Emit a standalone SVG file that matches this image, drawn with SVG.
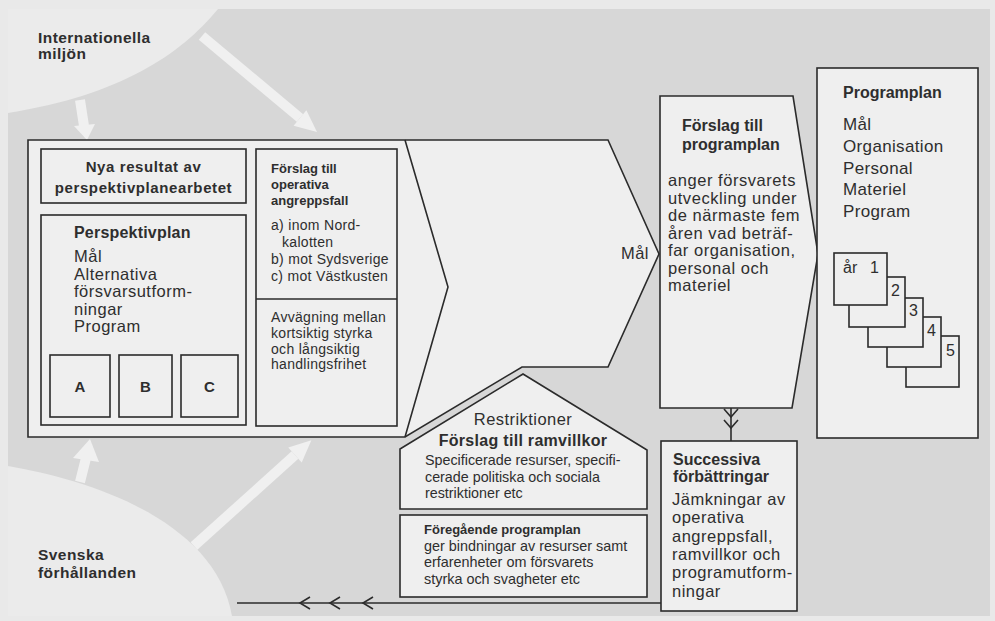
<svg xmlns="http://www.w3.org/2000/svg" width="995" height="621" viewBox="0 0 995 621">
  <defs>
    <style>
      .ln { fill: none; stroke: #2b2b2b; stroke-width: 1.6; stroke-linejoin: miter; }
      .box { fill: #efefef; stroke: #2b2b2b; stroke-width: 1.6; }
      .t { font-family: "Liberation Sans", Arial, sans-serif; fill: #2e2e2e; }
      .b { font-weight: bold; }
      .halo { fill: #ebebeb; }
      .wshaft { stroke: #f0f0f0; stroke-width: 10; fill: none; }
      .whead { fill: #f0f0f0; }
    </style>
  </defs>

  <!-- paper and grey panel -->
  <rect x="0" y="0" width="995" height="621" fill="#e9e9e9"/>
  <rect x="8" y="9" width="982" height="607" fill="#d7d7d7"/>

  <!-- light surroundings: international environment (top) and Swedish conditions (bottom) -->
  <path class="halo" d="M8,9 L218,9 C180,55 120,95 8,113 Z"/>
  <path class="halo" d="M8,466 C90,480 215,520 232,616 L8,616 Z"/>

  <!-- broad white influence arrows -->
  <g id="influence-arrows">
    <line class="wshaft" x1="80" y1="100" x2="84" y2="126"/>
    <polygon class="whead" points="74,126 95,124 87,140"/>
    <line class="wshaft" x1="202" y1="36" x2="300" y2="118"/>
    <polygon class="whead" points="293.6,125.7 306.4,110.3 317,132"/>
    <line class="wshaft" x1="80" y1="482" x2="86" y2="458"/>
    <polygon class="whead" points="73,458 99,462 90,439"/>
    <line class="wshaft" x1="194" y1="546" x2="295" y2="455"/>
    <polygon class="whead" points="288.3,447.6 301.7,462.4 311.4,440.3"/>
  </g>

  <!-- left block with forward chevron -->
  <g id="perspektiv-block">
    <path class="box" d="M28,140 L608,140 L659,254 L608,367 L522,367 L405,437 L28,437 Z"/>
    <path class="ln" d="M405,140 L448,287 L405,437"/>
    <text class="t" x="621" y="259" font-size="16.5" letter-spacing="0.4">Mål</text>
  </g>

  <g id="nya-resultat">
    <rect class="box" x="41" y="149" width="205" height="54"/>
    <text class="t b" x="143.5" y="172" font-size="15" letter-spacing="0.6" text-anchor="middle">Nya resultat av</text>
    <text class="t b" x="143.5" y="193" font-size="15" letter-spacing="0.6" text-anchor="middle">perspektivplanearbetet</text>
  </g>

  <g id="perspektivplan">
    <rect class="box" x="41" y="215" width="205" height="210"/>
    <text class="t b" x="74" y="238" font-size="16" letter-spacing="0.2">Perspektivplan</text>
    <g letter-spacing="0.5">
      <text class="t" x="74" y="262" font-size="16.5">Mål</text>
      <text class="t" x="74" y="279.5" font-size="16.5">Alternativa</text>
      <text class="t" x="74" y="297" font-size="16.5">försvarsutform-</text>
      <text class="t" x="74" y="314.5" font-size="16.5">ningar</text>
      <text class="t" x="74" y="332" font-size="16.5">Program</text>
    </g>
  </g>
  <g id="alt-a">
    <rect class="box" x="50" y="355" width="60" height="62"/>
    <text class="t b" x="80" y="392" font-size="15" text-anchor="middle">A</text>
  </g>
  <g id="alt-b">
    <rect class="box" x="119" y="355" width="53" height="62"/>
    <text class="t b" x="145.5" y="392" font-size="15" text-anchor="middle">B</text>
  </g>
  <g id="alt-c">
    <rect class="box" x="181" y="355" width="57" height="62"/>
    <text class="t b" x="209.5" y="392" font-size="15" text-anchor="middle">C</text>
  </g>

  <g id="angreppsfall">
    <rect class="box" x="256" y="149" width="141" height="277"/>
    <line class="ln" x1="256" y1="299" x2="397" y2="299"/>
    <text class="t b" x="271" y="173" font-size="13">Förslag till</text>
    <text class="t b" x="271" y="189" font-size="13">operativa</text>
    <text class="t b" x="271" y="205" font-size="13">angreppsfall</text>
    <g letter-spacing="0.3">
      <text class="t" x="271" y="230" font-size="14">a) inom Nord-</text>
      <text class="t" x="282" y="247" font-size="14">kalotten</text>
      <text class="t" x="271" y="264" font-size="14">b) mot Sydsverige</text>
      <text class="t" x="271" y="281" font-size="14">c) mot Västkusten</text>
      <text class="t" x="271" y="322" font-size="14">Avvägning mellan</text>
      <text class="t" x="271" y="338" font-size="14">kortsiktig styrka</text>
      <text class="t" x="271" y="353.5" font-size="14">och långsiktig</text>
      <text class="t" x="271" y="369" font-size="14">handlingsfrihet</text>
    </g>
  </g>

  <g id="forslag-programplan">
    <path class="box" d="M660,96 L793,96 L818,254 L792,408 L660,408 Z"/>
    <text class="t b" x="682" y="131" font-size="16">Förslag till</text>
    <text class="t b" x="682" y="150" font-size="16">programplan</text>
    <g letter-spacing="0.55">
      <text class="t" x="668" y="186" font-size="16.5">anger försvarets</text>
      <text class="t" x="668" y="203.5" font-size="16.5">utveckling under</text>
      <text class="t" x="668" y="221" font-size="16.5">de närmaste fem</text>
      <text class="t" x="668" y="238.5" font-size="16.5">åren vad beträf-</text>
      <text class="t" x="668" y="256" font-size="16.5">far organisation,</text>
      <text class="t" x="668" y="273.5" font-size="16.5">personal och</text>
      <text class="t" x="668" y="291" font-size="16.5">materiel</text>
    </g>
  </g>

  <g id="programplan">
    <rect class="box" x="817" y="68" width="161" height="370"/>
    <text class="t b" x="843" y="98" font-size="16">Programplan</text>
    <g letter-spacing="0.35">
      <text class="t" x="843" y="130" font-size="17">Mål</text>
      <text class="t" x="843" y="152" font-size="17">Organisation</text>
      <text class="t" x="843" y="173.5" font-size="17">Personal</text>
      <text class="t" x="843" y="195" font-size="17">Materiel</text>
      <text class="t" x="843" y="217" font-size="17">Program</text>
    </g>
    <rect class="box" x="906" y="336" width="53" height="51"/>
    <rect class="box" x="887" y="317" width="54" height="50"/>
    <rect class="box" x="868" y="298" width="55" height="49"/>
    <rect class="box" x="849" y="277" width="56" height="50"/>
    <rect class="box" x="834" y="253" width="53" height="52"/>
    <text class="t" x="843" y="273" font-size="16">år</text>
    <text class="t" x="870" y="273" font-size="16">1</text>
    <text class="t" x="891" y="296" font-size="16">2</text>
    <text class="t" x="909" y="316" font-size="16">3</text>
    <text class="t" x="927" y="336" font-size="16">4</text>
    <text class="t" x="946" y="356" font-size="16">5</text>
  </g>

  <g id="ramvillkor">
    <path class="box" d="M400,509 L400,449 L523,374 L647,450 L647,509 Z"/>
    <text class="t" x="523" y="425" font-size="16.5" letter-spacing="0.45" text-anchor="middle">Restriktioner</text>
    <text class="t b" x="523" y="446" font-size="16" letter-spacing="0.3" text-anchor="middle">Förslag till ramvillkor</text>
    <text class="t" x="425" y="465" font-size="14.3">Specificerade resurser, specifi-</text>
    <text class="t" x="425" y="482" font-size="14.3">cerade politiska och sociala</text>
    <text class="t" x="425" y="498" font-size="14.3">restriktioner etc</text>
  </g>

  <g id="foregaende-programplan">
    <rect class="box" x="400" y="515" width="247" height="82"/>
    <text class="t b" x="424" y="534" font-size="13">Föregående programplan</text>
    <text class="t" x="424" y="551" font-size="14.4">ger bindningar av resurser samt</text>
    <text class="t" x="424" y="567" font-size="14.4">erfarenheter om försvarets</text>
    <text class="t" x="424" y="584" font-size="14.4">styrka och svagheter etc</text>
  </g>

  <g id="successiva">
    <rect class="box" x="661" y="441" width="136" height="170"/>
    <text class="t b" x="673" y="465" font-size="16">Successiva</text>
    <text class="t b" x="673" y="482" font-size="16">förbättringar</text>
    <g letter-spacing="0.5">
      <text class="t" x="672" y="505" font-size="16.5">Jämkningar av</text>
      <text class="t" x="672" y="523" font-size="16.5">operativa</text>
      <text class="t" x="672" y="541.5" font-size="16.5">angreppsfall,</text>
      <text class="t" x="672" y="560" font-size="16.5">ramvillkor och</text>
      <text class="t" x="672" y="578" font-size="16.5">programutform-</text>
      <text class="t" x="672" y="597" font-size="16.5">ningar</text>
    </g>
  </g>

  <!-- feedback connectors -->
  <g id="connectors">
    <line class="ln" x1="731" y1="408" x2="731" y2="441" stroke-width="2"/>
    <path class="ln" d="M724,409 L731,417 L738,409" stroke-width="1.8"/>
    <path class="ln" d="M724,420 L731,428 L738,420" stroke-width="1.8"/>
    <line class="ln" x1="661" y1="603" x2="237" y2="603" stroke-width="2"/>
    <path class="ln" d="M310,597 L300,603 L310,609" stroke-width="1.6"/>
    <path class="ln" d="M340,597 L330,603 L340,609" stroke-width="1.6"/>
    <path class="ln" d="M373,597 L363,603 L373,609" stroke-width="1.6"/>
  </g>

  <!-- region captions -->
  <g letter-spacing="0.45">
    <text class="t b" x="38" y="43" font-size="15.5">Internationella</text>
    <text class="t b" x="38" y="59" font-size="15.5">miljön</text>
    <text class="t b" x="38" y="560" font-size="15.5">Svenska</text>
    <text class="t b" x="38" y="578" font-size="15.5">förhållanden</text>
  </g>
</svg>
